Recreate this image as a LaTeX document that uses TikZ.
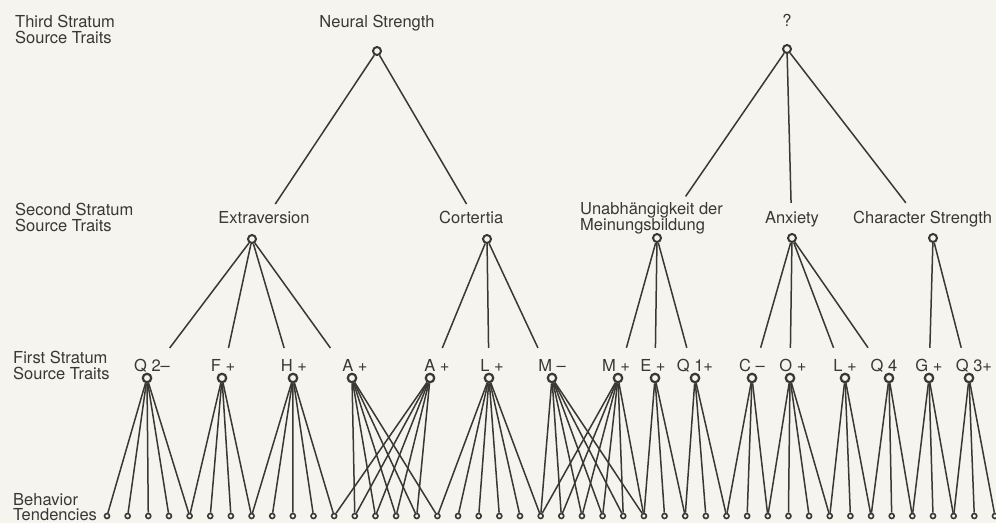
\documentclass[tikz,border=0pt]{standalone}
\usepackage{fontspec}
\setmainfont{TeX Gyre Heros}
\usetikzlibrary{calc}
\definecolor{paper}{HTML}{F6F4EF}
\definecolor{ink}{HTML}{3A3835}
\begin{document}
\begin{tikzpicture}[x=1pt,y=-1pt,
  hub/.style={circle, draw=ink, line width=2pt, fill=paper, minimum size=8pt, inner sep=0pt},
  trait/.style={circle, draw=ink, line width=2.2pt, fill=paper, minimum size=8.5pt, inner sep=0pt},
  tend/.style={circle, draw=ink, line width=1.6pt, fill=paper, minimum size=5pt, inner sep=0pt},
  link/.style={draw=ink, line width=1.5pt},
  lbl/.style={inner sep=0pt, text=ink, font=\fontsize{16.5}{15.5}\selectfont},
  lblb/.style={lbl, anchor=base},
  lblw/.style={lbl, anchor=base west},
  lbln/.style={lbl, anchor=north west, align=left}]
\fill[paper] (0,0) rectangle (996,523);
\useasboundingbox (0,0) rectangle (996,523);

% ---- row captions
\node[lbln] (cap3) at (15,15) {Third Stratum\\Source Traits};
\node[lbln] (cap2) at (15,203) {Second Stratum\\Source Traits};
\node[lbln] (cap1) at (13,351) {First Stratum\\Source Traits};
\node[lbln] (cap0) at (13,493) {Behavior\\Tendencies};

% ---- third stratum
\node[lblb] (tNS) at (377,27) {Neural Strength};
\node[lblb] (tQM) at (787,26) {?};
\node[hub] (ns) at (377,51) {};
\node[hub] (qm) at (787,49) {};

% ---- second stratum
\node[lblb] (tEXT) at (264,223) {Extraversion};
\node[lblw] (tCOR) at (439,223) {Cortertia};
\node[lbln] (tUNA) at (580,202) {Unabhängigkeit der\\Meinungsbildung};
\node[lblb] (tANX) at (792,223) {Anxiety};
\node[lblw] (tCHS) at (853,223) {Character Strength};
\node[hub] (ext) at (252,239) {};
\node[hub] (cor) at (487,239) {};
\node[hub] (una) at (657,238) {};
\node[hub] (anx) at (792,238) {};
\node[hub] (chs) at (933,238) {};

% ---- first stratum: name / circle x / label x / label text
\foreach \n/\x/\lx/\t in {
  q2/147/152/{Q 2--}, fp/222/223/{F +}, hp/293/294/{H +}, apa/352/355/{A +},
  apb/430/437/{A +}, lpa/489/492/{L +}, mm/552/552/{M --}, mp/618/616/{M +},
  ep/655/653/{E +}, qa/695/695/{Q 1+}, cm/752/752/{C --}, op/790/793/{O +},
  lpb/845/845/{L +}, qf/889/884/{Q 4}, gp/929/929/{G +}, qt/969/974/{Q 3+}} {
  \node[lblb] (t\n) at (\lx,371) {\t};
  \node[trait] (\n) at (\x,378) {};
}

% ---- behavior tendencies
\foreach \i in {0,...,43}
  \node[tend] (b\i) at ({107+20.65*\i},516) {};

% ---- third -> second (lines stop above the labels)
\draw[link] (ns) -- ($(ns)!0.814!(ext)$);
\draw[link] (ns) -- ($(ns)!0.814!(cor)$);
\draw[link] (qm) -- ($(qm)!0.78!(una)$);
\draw[link] (qm) -- ($(qm)!0.814!(anx)$);
\draw[link] (qm) -- ($(qm)!0.814!(chs)$);

% ---- second -> first
\foreach \p/\l in {ext/{q2,fp,hp,apa}, cor/{apb,lpa,mm}, una/{mp,ep,qa},
                   anx/{cm,op,lpb,qf}, chs/{gp,qt}}
  \foreach \c in \l
    \draw[link] (\p) -- ($(\p)!0.784!(\c)$);

% ---- first -> behavior
\foreach \p/\l in {q2/{0,1,2,3,4}, fp/{4,5,6,7}, hp/{7,8,9,10,11},
                   apa/{12,13,14,15,16}, apb/{11,12,13,14,15},
                   lpa/{16,17,18,19,20,21}, mm/{21,22,23,24,25,26},
                   mp/{21,22,23,24,25,26}, ep/{26,27,28}, qa/{28,29,30},
                   cm/{30,31,32}, op/{32,33,34,35}, lpb/{35,36,37},
                   qf/{37,38,39}, gp/{39,40,41}, qt/{41,42,43}}
  \foreach \j in \l
    \draw[link] (\p) -- (b\j);
\end{tikzpicture}
\end{document}
